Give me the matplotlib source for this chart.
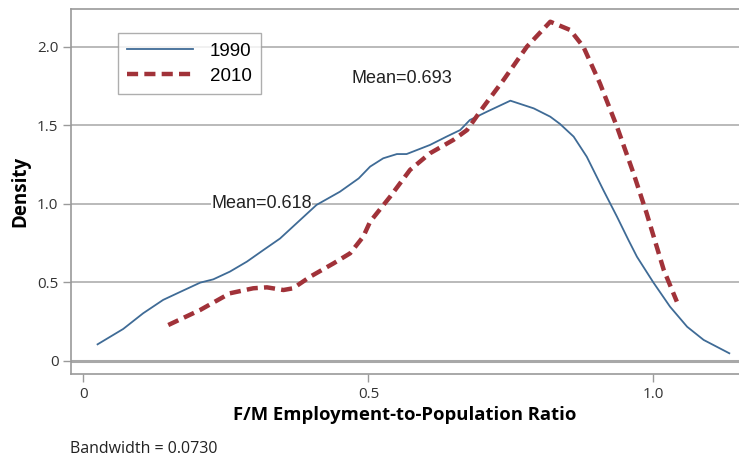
import matplotlib
matplotlib.use("Agg")
import matplotlib.pyplot as plt

# kernel density curves
x_1990 = [0.025, 0.070, 0.105, 0.140, 0.170, 0.205, 0.228, 0.257, 0.287, 0.316, 0.345,
          0.409, 0.450, 0.483, 0.503, 0.526, 0.550, 0.567, 0.608, 0.637, 0.661, 0.678,
          0.708, 0.749, 0.790, 0.819, 0.836, 0.860, 0.883, 0.912, 0.936, 0.956, 0.971,
          1.000, 1.029, 1.059, 1.088, 1.133]
d_1990 = [0.106, 0.204, 0.304, 0.389, 0.440, 0.499, 0.520, 0.569, 0.633, 0.707, 0.780,
          0.994, 1.078, 1.163, 1.238, 1.291, 1.318, 1.318, 1.376, 1.429, 1.471, 1.535,
          1.588, 1.658, 1.609, 1.556, 1.510, 1.429, 1.301, 1.089, 0.919, 0.771, 0.664,
          0.499, 0.346, 0.218, 0.134, 0.049]

x_2010 = [0.149, 0.205, 0.257, 0.298, 0.322, 0.351, 0.368, 0.398, 0.439, 0.468, 0.491,
          0.503, 0.538, 0.573, 0.608, 0.649, 0.673, 0.702, 0.737, 0.778, 0.819, 0.854,
          0.877, 0.906, 0.936, 0.965, 0.988, 1.018, 1.041]
d_2010 = [0.229, 0.325, 0.431, 0.463, 0.469, 0.452, 0.463, 0.537, 0.622, 0.686, 0.792,
          0.887, 1.046, 1.217, 1.323, 1.408, 1.471, 1.620, 1.790, 2.002, 2.161, 2.108,
          2.002, 1.769, 1.492, 1.195, 0.941, 0.580, 0.378]

y_ticks = [0, 0.5, 1.0, 1.5, 2.0]
y_labels = ["0", "0.5", "1.0", "1.5", "2.0"]
x_ticks = [0, 0.5, 1.0]
x_labels = ["0", "0.5", "1.0"]

grey = "#9a9a9a"
label_font = "Open Sans"
text_font = "Liberation Sans"

fig = plt.figure(figsize=(7.39, 4.61), dpi=100)
ax = fig.add_axes([71 / 739, 1 - 374 / 461, 1 - 71 / 739, 365 / 461])

ax.set_xlim(-0.0216, 1.150)
ax.set_ylim(-0.083, 2.242)

for t in y_ticks[1:]:
    ax.axhline(t, color="#b4b4b4", lw=1.3, zorder=1)
ax.axhline(0, color="#a8a8a8", lw=2.2, zorder=1)

ax.plot(x_1990, d_1990, color="#3f6b96", lw=1.3, label="1990", zorder=3)
ax.plot(x_2010, d_2010, color="#a13239", lw=3.2, dashes=(2.5, 1.4), label="2010", zorder=3)

ax.text(0.224, 1.0, "Mean=0.618", family=text_font, fontsize=13, va="center", ha="left",
        color="#222222", zorder=2, bbox=dict(facecolor="white", edgecolor="none", pad=0))
ax.text(0.470, 1.80, "Mean=0.693", family=text_font, fontsize=13, va="center", ha="left",
        color="#222222", zorder=2, bbox=dict(facecolor="white", edgecolor="none", pad=0))

ax.set_yticks(y_ticks)
ax.set_yticklabels(y_labels, family=label_font, fontsize=11, color="#333333")
ax.set_xticks(x_ticks)
ax.set_xticklabels(x_labels, family=label_font, fontsize=11, color="#333333")
ax.tick_params(axis="both", direction="out", length=6, width=1, color=grey, pad=3)

for side in ["left", "top", "bottom"]:
    ax.spines[side].set_color(grey)
    ax.spines[side].set_linewidth(1.2)
ax.spines["right"].set_visible(False)

ax.set_ylabel("Density", family=label_font, fontsize=13.5, fontweight="bold", labelpad=5)
ax.set_xlabel("F/M Employment-to-Population Ratio", family=label_font, fontsize=13.3,
              fontweight="bold", labelpad=3)

leg = ax.legend(loc="upper left", bbox_to_anchor=(47 / 668, 1 - 24 / 365), prop={"family": text_font, "size": 13.5},
                frameon=True, fancybox=False, handlelength=3.5, borderpad=0.5,
                labelspacing=0.45, handletextpad=0.9, borderaxespad=0)
leg.get_frame().set_edgecolor(grey)
leg.get_frame().set_linewidth(1)

fig.text(70 / 739, 1 - 449 / 461, "Bandwidth = 0.0730", family=label_font, fontsize=11.5,
         va="center", ha="left", color="#222222")

fig.savefig("out.png", dpi=100)
